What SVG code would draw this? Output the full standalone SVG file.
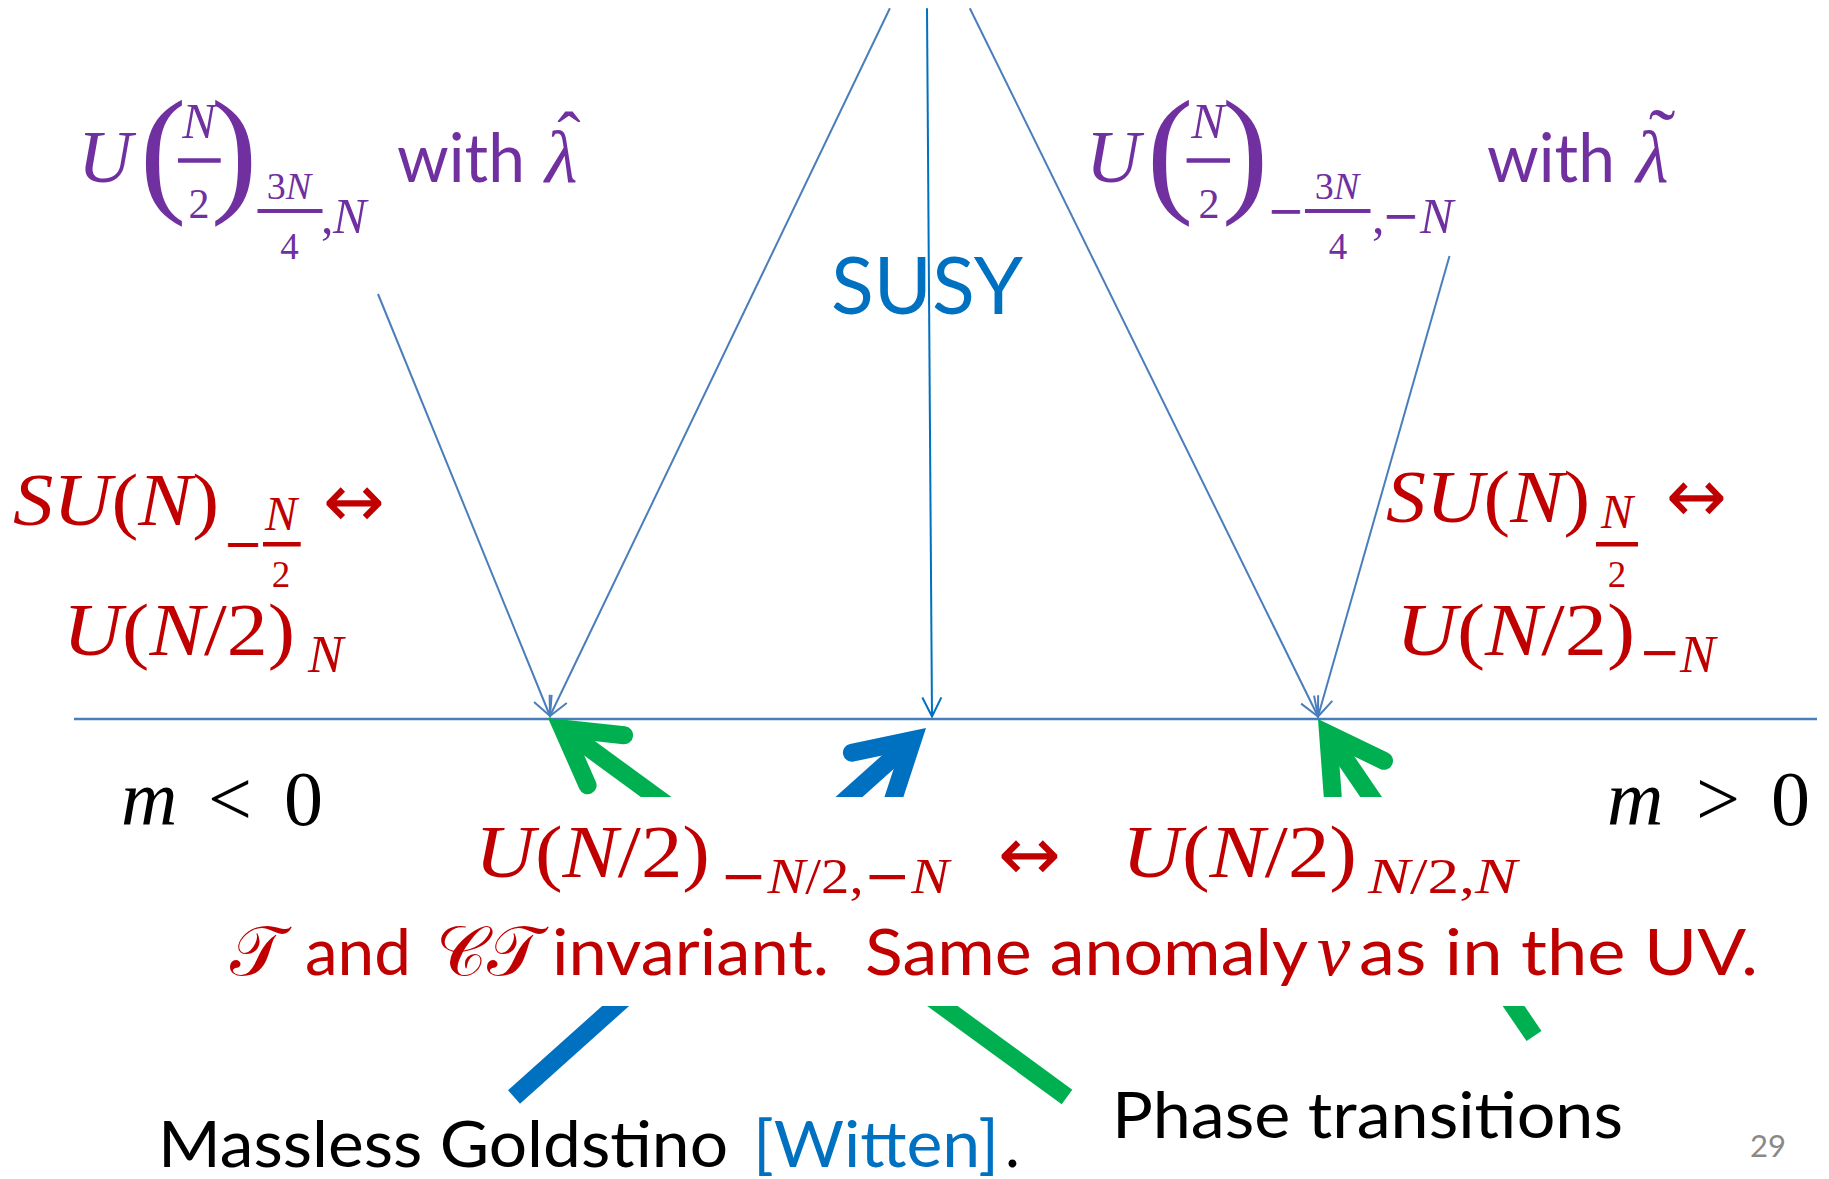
<svg xmlns="http://www.w3.org/2000/svg" width="1829" height="1179" viewBox="0 0 1829 1179">
<defs>
<style>
.m{font-family:"Liberation Serif","DejaVu Serif",serif;font-style:italic}
.r{font-family:"Liberation Serif","DejaVu Serif",serif;font-style:normal}
.ar{font-family:"DejaVu Sans","Liberation Sans",sans-serif;font-style:normal}
.s{font-family:Lato,"Liberation Sans",sans-serif}
.cal{font-family:"DejaVu Sans","DejaVu Serif","Noto Sans",serif;font-style:normal}
.pu{fill:#7030A0}.rd{fill:#C00000}.bk{fill:#000000}.bl{fill:#0070C0}
.thin{fill:none;stroke:#4A7EBB;stroke-width:2}
.thinb{fill:none;stroke:#0070C0;stroke-width:2}
.thick{fill:none;stroke-width:18;stroke-linejoin:miter;stroke-miterlimit:10}
.head{stroke-linecap:round}
.g{stroke:#00B050}.b{stroke:#0070C0}
.barpu{stroke:#7030A0;stroke-width:4.4}
.barrd{stroke:#C00000;stroke-width:4.4}
</style>
<marker id="open" markerUnits="userSpaceOnUse" viewBox="-24 -12 28 24" refX="0" refY="0" markerWidth="28" markerHeight="24" orient="auto">
<path d="M-19,-9.5 L0,0 L-19,9.5" fill="none" stroke="#4A7EBB" stroke-width="2"/>
</marker>
<marker id="openb" markerUnits="userSpaceOnUse" viewBox="-24 -12 28 24" refX="0" refY="0" markerWidth="28" markerHeight="24" orient="auto">
<path d="M-19,-9.5 L0,0 L-19,9.5" fill="none" stroke="#0070C0" stroke-width="2"/>
</marker>
<clipPath id="band">
<rect x="0" y="0" width="1829" height="797"/>
<rect x="0" y="1006" width="1829" height="173"/>
</clipPath>
</defs>
<rect x="0" y="0" width="1829" height="1179" fill="#FFFFFF"/>

<g id="axis">
<line x1="74" y1="719" x2="1817" y2="719" stroke="#4A7EBB" stroke-width="2.5"/>
</g>

<g id="connectors">
<path class="thin" d="M889.9,8.3 L550,716" marker-end="url(#open)"/>
<path class="thinb" d="M927,8.3 L932,716.5" marker-end="url(#openb)"/>
<path class="thin" d="M969.8,8.3 L1318,716.5" marker-end="url(#open)"/>
<path class="thin" d="M378,294 L550,716" marker-end="url(#open)"/>
<path class="thin" d="M1449.5,256 L1318,716.5" marker-end="url(#open)"/>
<g clip-path="url(#band)">
<path class="thick g" d="M1067,1097 L562.5,728.6"/>
<path class="thick g head" d="M624.1,735.2 L562.5,728.6 L587.6,785.3"/>
<path class="thick b" d="M514,1097 L912.6,740"/>
<path class="thick b head" d="M851.9,752.7 L912.6,740 L893.3,798.9"/>
<path class="thick g" d="M1534,1036 L1328.1,733.9"/>
<path class="thick g head" d="M1384,760.8 L1328.1,733.9 L1332.7,795.7"/>
</g>
</g>

<g id="node-susy">
<text class="s bl" x="831" y="314" font-size="80" textLength="192" lengthAdjust="spacingAndGlyphs">SUSY</text>
</g>

<g id="node-purple-left">
<text class="m pu" x="78" y="181.7" font-size="75">U</text>
<text class="r pu" x="163" y="196.7" font-size="140" text-anchor="middle">(</text>
<text class="m pu" x="199" y="138" font-size="50" text-anchor="middle">N</text>
<line class="barpu" x1="178" y1="160.5" x2="220.7" y2="160.5"/>
<text class="r pu" x="199" y="218.3" font-size="42" text-anchor="middle">2</text>
<text class="r pu" x="234" y="196.7" font-size="140" text-anchor="middle">)</text>
<text class="pu" x="289" y="199" font-size="38" text-anchor="middle"><tspan class="r">3</tspan><tspan class="m">N</tspan></text>
<line class="barpu" x1="257.5" y1="211" x2="322.5" y2="211" style="stroke-width:4"/>
<text class="r pu" x="289.5" y="259" font-size="37" text-anchor="middle">4</text>
<text class="r pu" x="321" y="233" font-size="50">,</text>
<text class="m pu" x="333" y="233" font-size="50">N</text>
<text class="s pu" x="397" y="181.7" font-size="68" textLength="128" lengthAdjust="spacingAndGlyphs">with</text>
<text class="m pu" x="545" y="181.7" font-size="75">λ</text>
<text class="r pu" x="569" y="160" font-size="70" text-anchor="middle">ˆ</text>
</g>

<g id="node-purple-right">
<text class="m pu" x="1086" y="181.7" font-size="75">U</text>
<text class="r pu" x="1170" y="196.7" font-size="140" text-anchor="middle">(</text>
<text class="m pu" x="1208" y="138" font-size="50" text-anchor="middle">N</text>
<line class="barpu" x1="1186.6" y1="160.5" x2="1230" y2="160.5"/>
<text class="r pu" x="1209" y="218.3" font-size="42" text-anchor="middle">2</text>
<text class="r pu" x="1245" y="196.7" font-size="140" text-anchor="middle">)</text>
<text class="ar pu" x="1267" y="226" font-size="45">−</text>
<text class="pu" x="1337" y="199" font-size="38" text-anchor="middle"><tspan class="r">3</tspan><tspan class="m">N</tspan></text>
<line class="barpu" x1="1305" y1="211" x2="1370.5" y2="211" style="stroke-width:4"/>
<text class="r pu" x="1338" y="259" font-size="37" text-anchor="middle">4</text>
<text class="r pu" x="1372" y="233" font-size="50">,</text>
<text class="ar pu" x="1382" y="231" font-size="45">−</text>
<text class="m pu" x="1420" y="233" font-size="50">N</text>
<text class="s pu" x="1487" y="181.7" font-size="68" textLength="128" lengthAdjust="spacingAndGlyphs">with</text>
<text class="m pu" x="1636" y="181.7" font-size="75">λ</text>
<text class="r pu" x="1662" y="164" font-size="80" text-anchor="middle">˜</text>
</g>

<g id="node-red-left">
<text class="m rd" x="13" y="525" font-size="75" textLength="206" lengthAdjust="spacingAndGlyphs">SU<tspan class="r">(</tspan>N<tspan class="r">)</tspan></text>
<text class="ar rd" x="223" y="560" font-size="48">−</text>
<text class="m rd" x="281" y="530" font-size="48" text-anchor="middle">N</text>
<line class="barrd" x1="263" y1="544.3" x2="300.7" y2="544.3"/>
<text class="r rd" x="281" y="586.7" font-size="37" text-anchor="middle">2</text>
<text class="ar rd" x="323" y="527" font-size="75" textLength="62" lengthAdjust="spacingAndGlyphs">↔</text>
<text class="m rd" x="63" y="655" font-size="75" textLength="232" lengthAdjust="spacingAndGlyphs">U<tspan class="r">(</tspan>N<tspan class="r">/2)</tspan></text>
<text class="m rd" x="308" y="671.7" font-size="53">N</text>
</g>

<g id="node-red-right">
<text class="m rd" x="1386" y="521.7" font-size="75" textLength="204" lengthAdjust="spacingAndGlyphs">SU<tspan class="r">(</tspan>N<tspan class="r">)</tspan></text>
<text class="m rd" x="1617" y="528" font-size="48" text-anchor="middle">N</text>
<line class="barrd" x1="1596" y1="544.2" x2="1638" y2="544.2"/>
<text class="r rd" x="1617" y="586.7" font-size="37" text-anchor="middle">2</text>
<text class="ar rd" x="1666" y="522" font-size="75" textLength="61" lengthAdjust="spacingAndGlyphs">↔</text>
<text class="m rd" x="1396" y="655" font-size="75" textLength="239" lengthAdjust="spacingAndGlyphs">U<tspan class="r">(</tspan>N<tspan class="r">/2)</tspan></text>
<text class="ar rd" x="1639" y="669" font-size="50">−</text>
<text class="m rd" x="1680" y="671.7" font-size="53">N</text>
</g>

<g id="node-m-neg">
<text class="m bk" x="121" y="825" font-size="78">m</text>
<text class="r bk" x="208" y="825" font-size="78">&lt;</text>
<text class="r bk" x="284" y="825" font-size="78">0</text>
</g>
<g id="node-m-pos">
<text class="m bk" x="1607" y="825" font-size="78">m</text>
<text class="r bk" x="1696" y="825" font-size="78">&gt;</text>
<text class="r bk" x="1771" y="825" font-size="78">0</text>
</g>

<g id="node-ir">
<text class="m rd" x="475" y="876.7" font-size="75" textLength="235" lengthAdjust="spacingAndGlyphs">U<tspan class="r">(</tspan>N<tspan class="r">/2)</tspan></text>
<text class="m rd" x="720" y="893" font-size="50" textLength="229" lengthAdjust="spacingAndGlyphs"><tspan class="ar">−</tspan>N<tspan class="r">/2,</tspan><tspan class="ar">−</tspan>N</text>
<text class="ar rd" x="998" y="880" font-size="75" textLength="63" lengthAdjust="spacingAndGlyphs">↔</text>
<text class="m rd" x="1122" y="876.7" font-size="75" textLength="235" lengthAdjust="spacingAndGlyphs">U<tspan class="r">(</tspan>N<tspan class="r">/2)</tspan></text>
<text class="m rd" x="1368" y="893" font-size="50" textLength="149" lengthAdjust="spacingAndGlyphs">N<tspan class="r">/2,</tspan>N</text>
<text class="cal rd" x="230" y="975" font-size="70">𝒯</text>
<text class="s rd" x="305" y="975" font-size="64" textLength="106" lengthAdjust="spacingAndGlyphs">and</text>
<text class="cal rd" x="436" y="975" font-size="70">𝒞𝒯</text>
<text class="s rd" x="552" y="975" font-size="64" textLength="277" lengthAdjust="spacingAndGlyphs">invariant.</text>
<text class="s rd" x="865" y="975" font-size="64" textLength="443" lengthAdjust="spacingAndGlyphs">Same anomaly</text>
<text class="m rd" x="1317" y="975" font-size="75">ν</text>
<text class="s rd" x="1359" y="975" font-size="64" textLength="399" lengthAdjust="spacingAndGlyphs">as in the UV.</text>
</g>

<g id="node-goldstino">
<text class="s bk" x="158" y="1166.7" font-size="63" textLength="570" lengthAdjust="spacingAndGlyphs">Massless Goldstino</text>
<text class="s bl" x="753" y="1166.7" font-size="63" textLength="246" lengthAdjust="spacingAndGlyphs">[Witten]</text>
<text class="s bk" x="1005" y="1166.7" font-size="63">.</text>
</g>
<g id="node-phase">
<text class="s bk" x="1112" y="1138" font-size="63" textLength="511" lengthAdjust="spacingAndGlyphs">Phase transitions</text>
</g>
<g id="page-number">
<text class="s" x="1750" y="1157" font-size="31" fill="#898989">29</text>
</g>
</svg>
